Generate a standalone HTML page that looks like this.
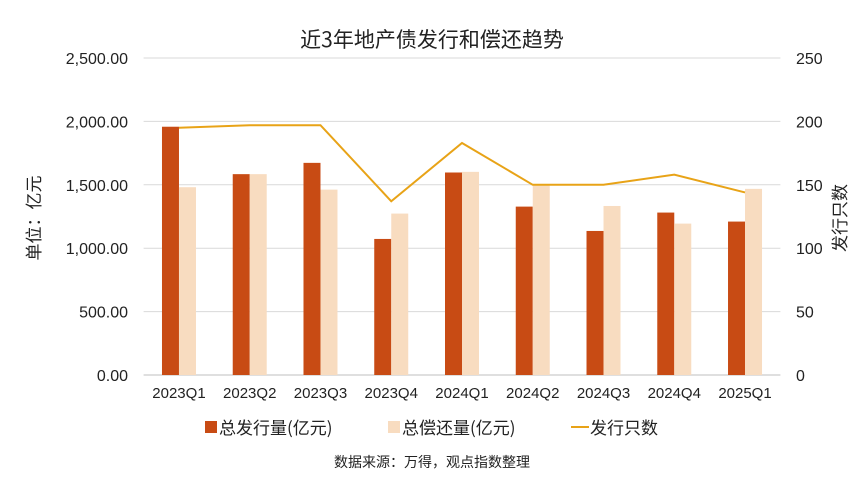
<!DOCTYPE html>
<html><head><meta charset="utf-8"><style>
html,body{margin:0;padding:0;background:#fff;}
svg{display:block;font-family:"Liberation Sans","Noto Sans CJK SC",sans-serif;}
</style></head><body>
<svg id="chart" width="865" height="487" viewBox="0 0 865 487">
<text x="432" y="47" text-anchor="middle" font-size="21" fill="#222" font-family="'Noto Sans CJK SC',sans-serif">近3年地产债发行和偿还趋势</text>
<g id="grid"></g><g id="bars"></g><g id="line"></g><g id="axes"></g>
<text transform="translate(40,218) rotate(-90)" text-anchor="middle" font-size="17" fill="#222" font-family="'Noto Sans CJK SC',sans-serif">单位：亿元</text>
<text transform="translate(846,218) rotate(-90)" text-anchor="middle" font-size="17" fill="#222" font-family="'Noto Sans CJK SC',sans-serif">发行只数</text>
<g font-size="17" fill="#222" font-family="'Noto Sans CJK SC',sans-serif">
<rect x="205" y="421" width="12" height="12" fill="#C84B14"/>
<text x="219" y="434">总发行量(亿元)</text>
<rect x="388" y="421" width="12" height="12" fill="#F8DCC0"/>
<text x="402" y="434">总偿还量(亿元)</text>
<line x1="571" y1="427" x2="589" y2="427" stroke="#E8A317" stroke-width="2"/>
<text x="590" y="434">发行只数</text>
</g>
<text x="432" y="467" text-anchor="middle" font-size="14" fill="#222" font-family="'Noto Sans CJK SC',sans-serif">数据来源：万得，观点指数整理</text>
</svg>
<script>
const categories=["2023Q1","2023Q2","2023Q3","2023Q4","2024Q1","2024Q2","2024Q3","2024Q4","2025Q1"];
const issuance=[1958,1584,1673,1073,1597,1328,1136,1281,1210];
const repayment=[1481,1584,1462,1273,1602,1502,1333,1194,1468];
const counts=[195,197,197,137,183,150,150,158,144];
const leftTicks=[0,500,1000,1500,2000,2500];
const leftTickLabels=["0.00","500.00","1,000.00","1,500.00","2,000.00","2,500.00"];
const rightTicks=[0,50,100,150,200,250];
const NS="http://www.w3.org/2000/svg";
const X0=143.6,X1=780.4,Y0=375,Y1=58;
const yL=v=>Y0-(v/2500)*(Y0-Y1);
const yR=v=>Y0-(v/250)*(Y0-Y1);
const step=(X1-X0)/categories.length;
const xc=i=>X0+step*(i+0.5);
function mk(tag,attrs,parent,txt){const e=document.createElementNS(NS,tag);for(const k in attrs)e.setAttribute(k,attrs[k]);if(txt!==undefined)e.textContent=txt;document.getElementById(parent).appendChild(e);return e;}
leftTicks.forEach((t,i)=>{
 const g=mk("line",{x1:X0,x2:X1,y1:yL(t),y2:yL(t),stroke:i===0?"#bfbfbf":"#d9d9d9","stroke-width":1},"grid");
 
 
 const l=mk("text",{x:128,y:yL(t)+6,"text-anchor":"end","font-size":16,fill:"#222"},"axes",leftTickLabels[i]);
 
 
});
rightTicks.forEach(t=>{
 const l=mk("text",{x:796,y:yR(t)+6,"font-size":16,fill:"#222"},"axes",String(t));
 
 
});
categories.forEach((c,i)=>{
 const w=17;
 const b1=mk("rect",{x:xc(i)-w,y:yL(issuance[i]),width:w,height:Y0-yL(issuance[i]),fill:"#C84B14"},"bars");
 
 
 const b2=mk("rect",{x:xc(i),y:yL(repayment[i]),width:w,height:Y0-yL(repayment[i]),fill:"#F8DCC0"},"bars");
 
 
 const l=mk("text",{x:xc(i),y:398,"text-anchor":"middle","font-size":15,fill:"#222"},"axes",c);
 
 
});
const pts=counts.map((v,i)=>xc(i)+","+yR(v)).join(" ");
const pl=mk("polyline",{points:pts,fill:"none",stroke:"#E8A317","stroke-width":2},"line");


</script>
</body></html>
